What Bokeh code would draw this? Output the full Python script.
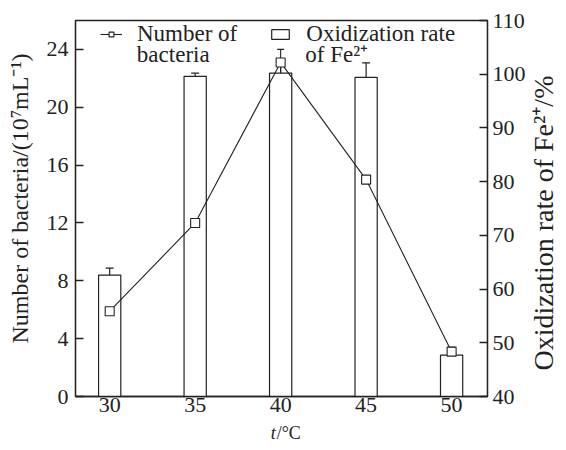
from bokeh.plotting import figure
from bokeh.models import (Range1d, LinearAxis, Whisker, TeeHead, ColumnDataSource,
                          Legend, LegendItem, FixedTicker, Label, Title)
from bokeh.layouts import row, column
from bokeh.embed import file_html
from bokeh.resources import INLINE

# ---- data ----
temps = [30, 35, 40, 45, 50]
bacteria = [5.9, 12.0, 23.1, 15.0, 3.1]
bacteria_err = [0.2, 0.5, 0.9, 0.2, 0.3]
oxid = [62.6, 99.6, 100.2, 99.4, 47.7]
oxid_err = [1.3, 0.6, 1.3, 2.7, 0.6]
left_ticks = [0, 4, 8, 12, 16, 20, 24]
right_ticks = [40, 50, 60, 70, 80, 90, 100, 110]
x_ticks = [30, 35, 40, 45, 50]

FONT = "Liberation Serif"
INK = "#222222"
H_MAIN = 422

src = ColumnDataSource(dict(
    t=temps, b=bacteria,
    b_lo=[v - e for v, e in zip(bacteria, bacteria_err)],
    b_hi=[v + e for v, e in zip(bacteria, bacteria_err)],
    o=oxid,
    o_lo=[v - e for v, e in zip(oxid, oxid_err)],
    o_hi=[v + e for v, e in zip(oxid, oxid_err)],
))

xr = Range1d(28.0, 52.1)
p = figure(width=494, height=H_MAIN, output_backend="svg", toolbar_location=None,
           x_range=xr, y_range=Range1d(0, 26),
           min_border_left=41, min_border_right=37, min_border_top=20, min_border_bottom=26)
p.extra_y_ranges = {"right": Range1d(40, 110)}
p.grid.visible = False
p.outline_line_color = INK
p.outline_line_width = 1.3
p.background_fill_color = "white"
p.border_fill_color = "white"

# bars (right axis)
bars = p.vbar(x="t", top="o", bottom=40, width=1.3, source=src, y_range_name="right",
              fill_color="white", line_color=INK, line_width=1.2)
p.add_layout(Whisker(base="t", lower="o_lo", upper="o_hi", source=src, y_range_name="right",
                     line_color=INK, line_width=1.2,
                     upper_head=TeeHead(size=8, line_color=INK, line_width=1.2),
                     lower_head=TeeHead(size=8, line_color=INK, line_width=1.2)))

# bacteria line + markers (left axis)
ln = p.line(x="t", y="b", source=src, line_color=INK, line_width=1.1)
sq = p.scatter(x="t", y="b", source=src, marker="square", size=9,
               fill_color="white", line_color=INK, line_width=1.1)
p.add_layout(Whisker(base="t", lower="b_lo", upper="b_hi", source=src,
                     line_color=INK, line_width=1.1,
                     upper_head=TeeHead(size=7, line_color=INK, line_width=1.1),
                     lower_head=TeeHead(size=7, line_color=INK, line_width=1.1)))

def style_axis(ax):
    ax.axis_line_color = INK
    ax.axis_line_width = 1.3
    ax.major_tick_line_color = INK
    ax.major_tick_line_width = 1.3
    ax.major_tick_in = 8
    ax.major_tick_out = 0
    ax.minor_tick_line_color = None
    ax.major_label_text_font = FONT
    ax.major_label_text_font_size = "22px"
    ax.major_label_text_color = INK

# left axis (ticks only; title in the left strip)
ly = p.yaxis[0]
style_axis(ly)
ly.ticker = FixedTicker(ticks=left_ticks)
ly.axis_label = None
ly.major_label_standoff = 7

# right axis (ticks only; title in the right strip)
ry = LinearAxis(y_range_name="right", ticker=FixedTicker(ticks=right_ticks))
style_axis(ry)
ry.major_label_standoff = 5
p.add_layout(ry, "right")

# bottom axis
bx = p.xaxis[0]
style_axis(bx)
bx.ticker = FixedTicker(ticks=x_ticks)
bx.major_tick_line_color = None
bx.major_label_standoff = 1
bx.axis_label = None

# legend: first lines with glyphs, second lines as labels
legend = Legend(items=[
    LegendItem(label="Number of", renderers=[ln, sq]),
    LegendItem(label="Oxidization rate", renderers=[bars]),
], orientation="horizontal")
legend.background_fill_alpha = 0
legend.border_line_color = None
legend.label_text_font = FONT
legend.label_text_font_size = "23px"
legend.label_text_color = INK
legend.glyph_width = 22
legend.glyph_height = 12
legend.label_standoff = 15
legend.spacing = 32
legend.margin = 0
legend.padding = 0
legend.location = (25, 349)
p.add_layout(legend)

p.add_layout(Label(x=31.59, y=23.66, text="bacteria", text_font=FONT, text_font_size="23px",
                   text_align="left", text_baseline="middle", text_color=INK))
p.add_layout(Label(x=41.44, y=23.66, text="of Fe\u00b2\u207a", text_font=FONT, text_font_size="23px",
                   text_align="left", text_baseline="middle", text_color=INK))

def side_strip(width, border_left, text, offset, size):
    f = figure(width=width, height=H_MAIN, output_backend="svg", toolbar_location=None,
               x_range=Range1d(0, 1), y_range=Range1d(0, 1),
               min_border_left=border_left, min_border_right=0,
               min_border_top=20, min_border_bottom=26)
    f.outline_line_color = None
    f.grid.visible = False
    f.xaxis.visible = False
    f.yaxis.visible = False
    f.background_fill_color = "white"
    f.border_fill_color = "white"
    f.add_layout(Title(text=text, align="left", offset=offset, standoff=0,
                       text_font=FONT, text_font_size=size,
                       text_font_style="normal", text_color=INK), "left")
    return f

pl = side_strip(34, 32, "Number of bacteria/(10\u2077mL\u207b\u00b9)", 53, "24px")
pr = side_strip(30, 28, "Oxidization rate of Fe\u00b2\u207a/%", 26, "28px")

# bottom title "t/°C" (italic t) in a thin strip figure below
pb = figure(width=558, height=20, output_backend="svg", toolbar_location=None,
            x_range=xr, y_range=Range1d(0, 1),
            min_border_left=75, min_border_right=67, min_border_top=0, min_border_bottom=0)
pb.outline_line_color = None
pb.grid.visible = False
pb.xaxis.visible = False
pb.yaxis.visible = False
pb.background_fill_color = "white"
pb.border_fill_color = "white"
pb.add_layout(Label(x=40, y=0.5, x_offset=-7, text="t", text_font=FONT, text_font_size="18px",
                    text_font_style="italic", text_align="right", text_baseline="middle",
                    text_color=INK))
pb.add_layout(Label(x=40, y=0.5, x_offset=-6, text="/\u00b0C", text_font=FONT, text_font_size="18px",
                    text_align="left", text_baseline="middle", text_color=INK))

layout = column(row(pl, p, pr), pb)
open("out.html", "w").write(file_html(layout, INLINE))
